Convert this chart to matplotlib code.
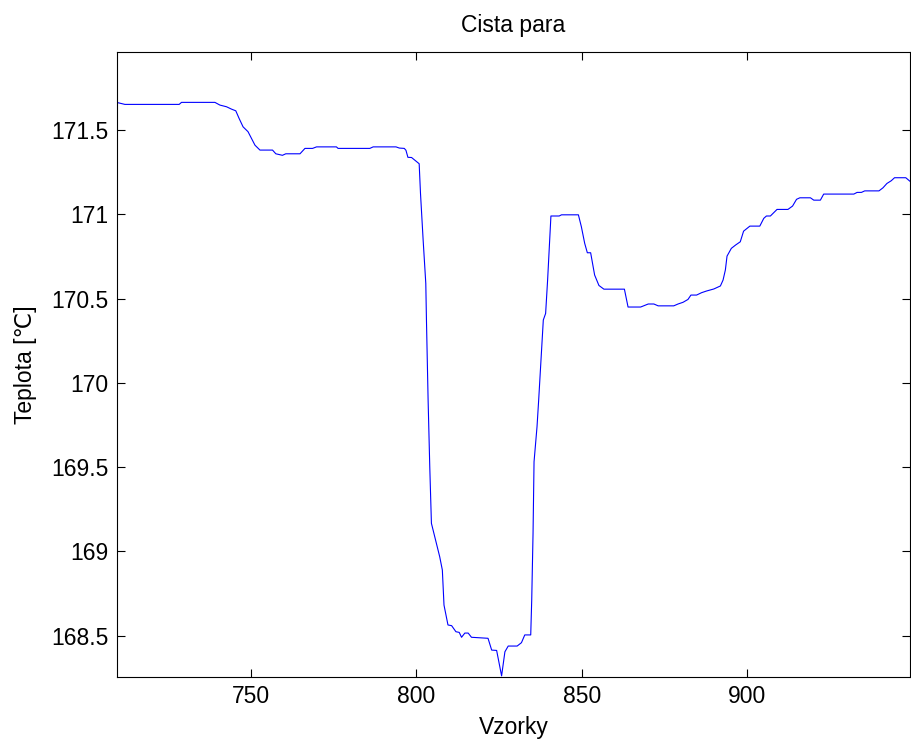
import matplotlib
matplotlib.use("Agg")
import matplotlib.pyplot as plt

# samples (x) and temperature (y)
vzorky = [
    709.5, 712.0, 728.4, 729.1, 739.2, 740.7, 742.7, 744.2, 745.5, 746.5,
    747.7, 749.2, 751.3, 752.8, 756.6, 757.6, 759.6, 760.6, 764.9, 766.4,
    768.7, 769.9, 775.9, 776.4, 786.0, 787.0, 793.9, 794.9, 796.4, 796.9,
    797.5, 798.6, 800.9, 801.3, 802.1, 802.9, 803.1, 803.6, 804.1, 804.6,
    806.1, 807.1, 807.9, 808.4, 809.6, 810.7, 812.0, 813.0, 813.7, 814.7,
    815.7, 816.7, 821.7, 822.8, 824.3, 825.8, 826.8, 827.8, 830.5, 831.8,
    832.8, 834.6, 834.9, 835.3, 835.6, 836.5, 837.0, 838.4, 839.1, 839.7,
    840.7, 843.2, 843.9, 849.0, 849.9, 850.9, 851.7, 852.7, 853.9, 855.2,
    856.7, 862.9, 864.0, 867.8, 870.1, 871.8, 873.1, 877.8, 879.1, 880.6,
    882.1, 883.0, 884.7, 886.2, 887.7, 889.9, 891.9, 892.7, 893.4, 893.9,
    895.2, 896.5, 897.9, 898.9, 900.8, 903.8, 905.0, 905.8, 907.0, 909.0,
    912.3, 913.7, 914.9, 915.9, 919.1, 920.1, 922.1, 923.1, 932.2, 933.2,
    934.5, 935.5, 939.8, 941.0, 942.2, 943.5, 944.5, 947.9, 949.1,
]
teplota = [
    171.664, 171.652, 171.652, 171.664, 171.664, 171.648, 171.638, 171.624, 171.614, 171.569,
    171.519, 171.490, 171.410, 171.381, 171.381, 171.359, 171.350, 171.359, 171.359, 171.391,
    171.391, 171.400, 171.400, 171.391, 171.391, 171.400, 171.400, 171.393, 171.391, 171.380,
    171.338, 171.337, 171.300, 171.124, 170.847, 170.590, 170.373, 169.898, 169.503, 169.167,
    169.048, 168.969, 168.890, 168.682, 168.564, 168.560, 168.524, 168.520, 168.491, 168.516,
    168.516, 168.491, 168.485, 168.415, 168.413, 168.262, 168.405, 168.439, 168.439, 168.459,
    168.505, 168.505, 168.712, 169.108, 169.532, 169.740, 169.898, 170.373, 170.412, 170.610,
    170.990, 170.990, 170.997, 170.997, 170.926, 170.828, 170.772, 170.772, 170.640, 170.578,
    170.556, 170.556, 170.450, 170.450, 170.468, 170.468, 170.457, 170.457, 170.468, 170.478,
    170.495, 170.521, 170.521, 170.535, 170.545, 170.557, 170.575, 170.610, 170.670, 170.752,
    170.798, 170.818, 170.837, 170.900, 170.930, 170.930, 170.976, 170.990, 170.990, 171.029,
    171.029, 171.049, 171.089, 171.098, 171.098, 171.084, 171.084, 171.120, 171.120, 171.130,
    171.130, 171.139, 171.139, 171.157, 171.183, 171.199, 171.217, 171.217, 171.197,
]
x_ticks = [750, 800, 850, 900]
y_ticks = [168.5, 169, 169.5, 170, 170.5, 171, 171.5]
y_ticklabels = ["168.5", "169", "169.5", "170", "170.5", "171", "171.5"]

plt.rcParams["font.family"] = ["Liberation Sans", "DejaVu Sans"]
FS = 16.5

fig = plt.figure(figsize=(9.11, 7.40), dpi=100)
ax = fig.add_axes([0.128, 0.0855, 0.871, 0.8445])

ax.plot(vzorky, teplota, color="#0000ff", linewidth=0.8)

ax.set_xlim(709.5, 949.2)
ax.set_ylim(168.257, 171.964)
ax.set_xticks(x_ticks)
ax.set_yticks(y_ticks)
ax.set_yticklabels(y_ticklabels)

ax.tick_params(direction="in", length=6, width=0.8, labelsize=FS,
               top=True, right=True, pad=6)
for s in ax.spines.values():
    s.set_linewidth(0.8)

ax.set_title("Cista para", fontsize=FS, pad=14)
ax.set_xlabel("Vzorky", fontsize=FS, labelpad=6)
ax.set_ylabel("Teplota [℃]", fontsize=FS, labelpad=10)

fig.savefig("out.png", dpi=100, facecolor="white")
